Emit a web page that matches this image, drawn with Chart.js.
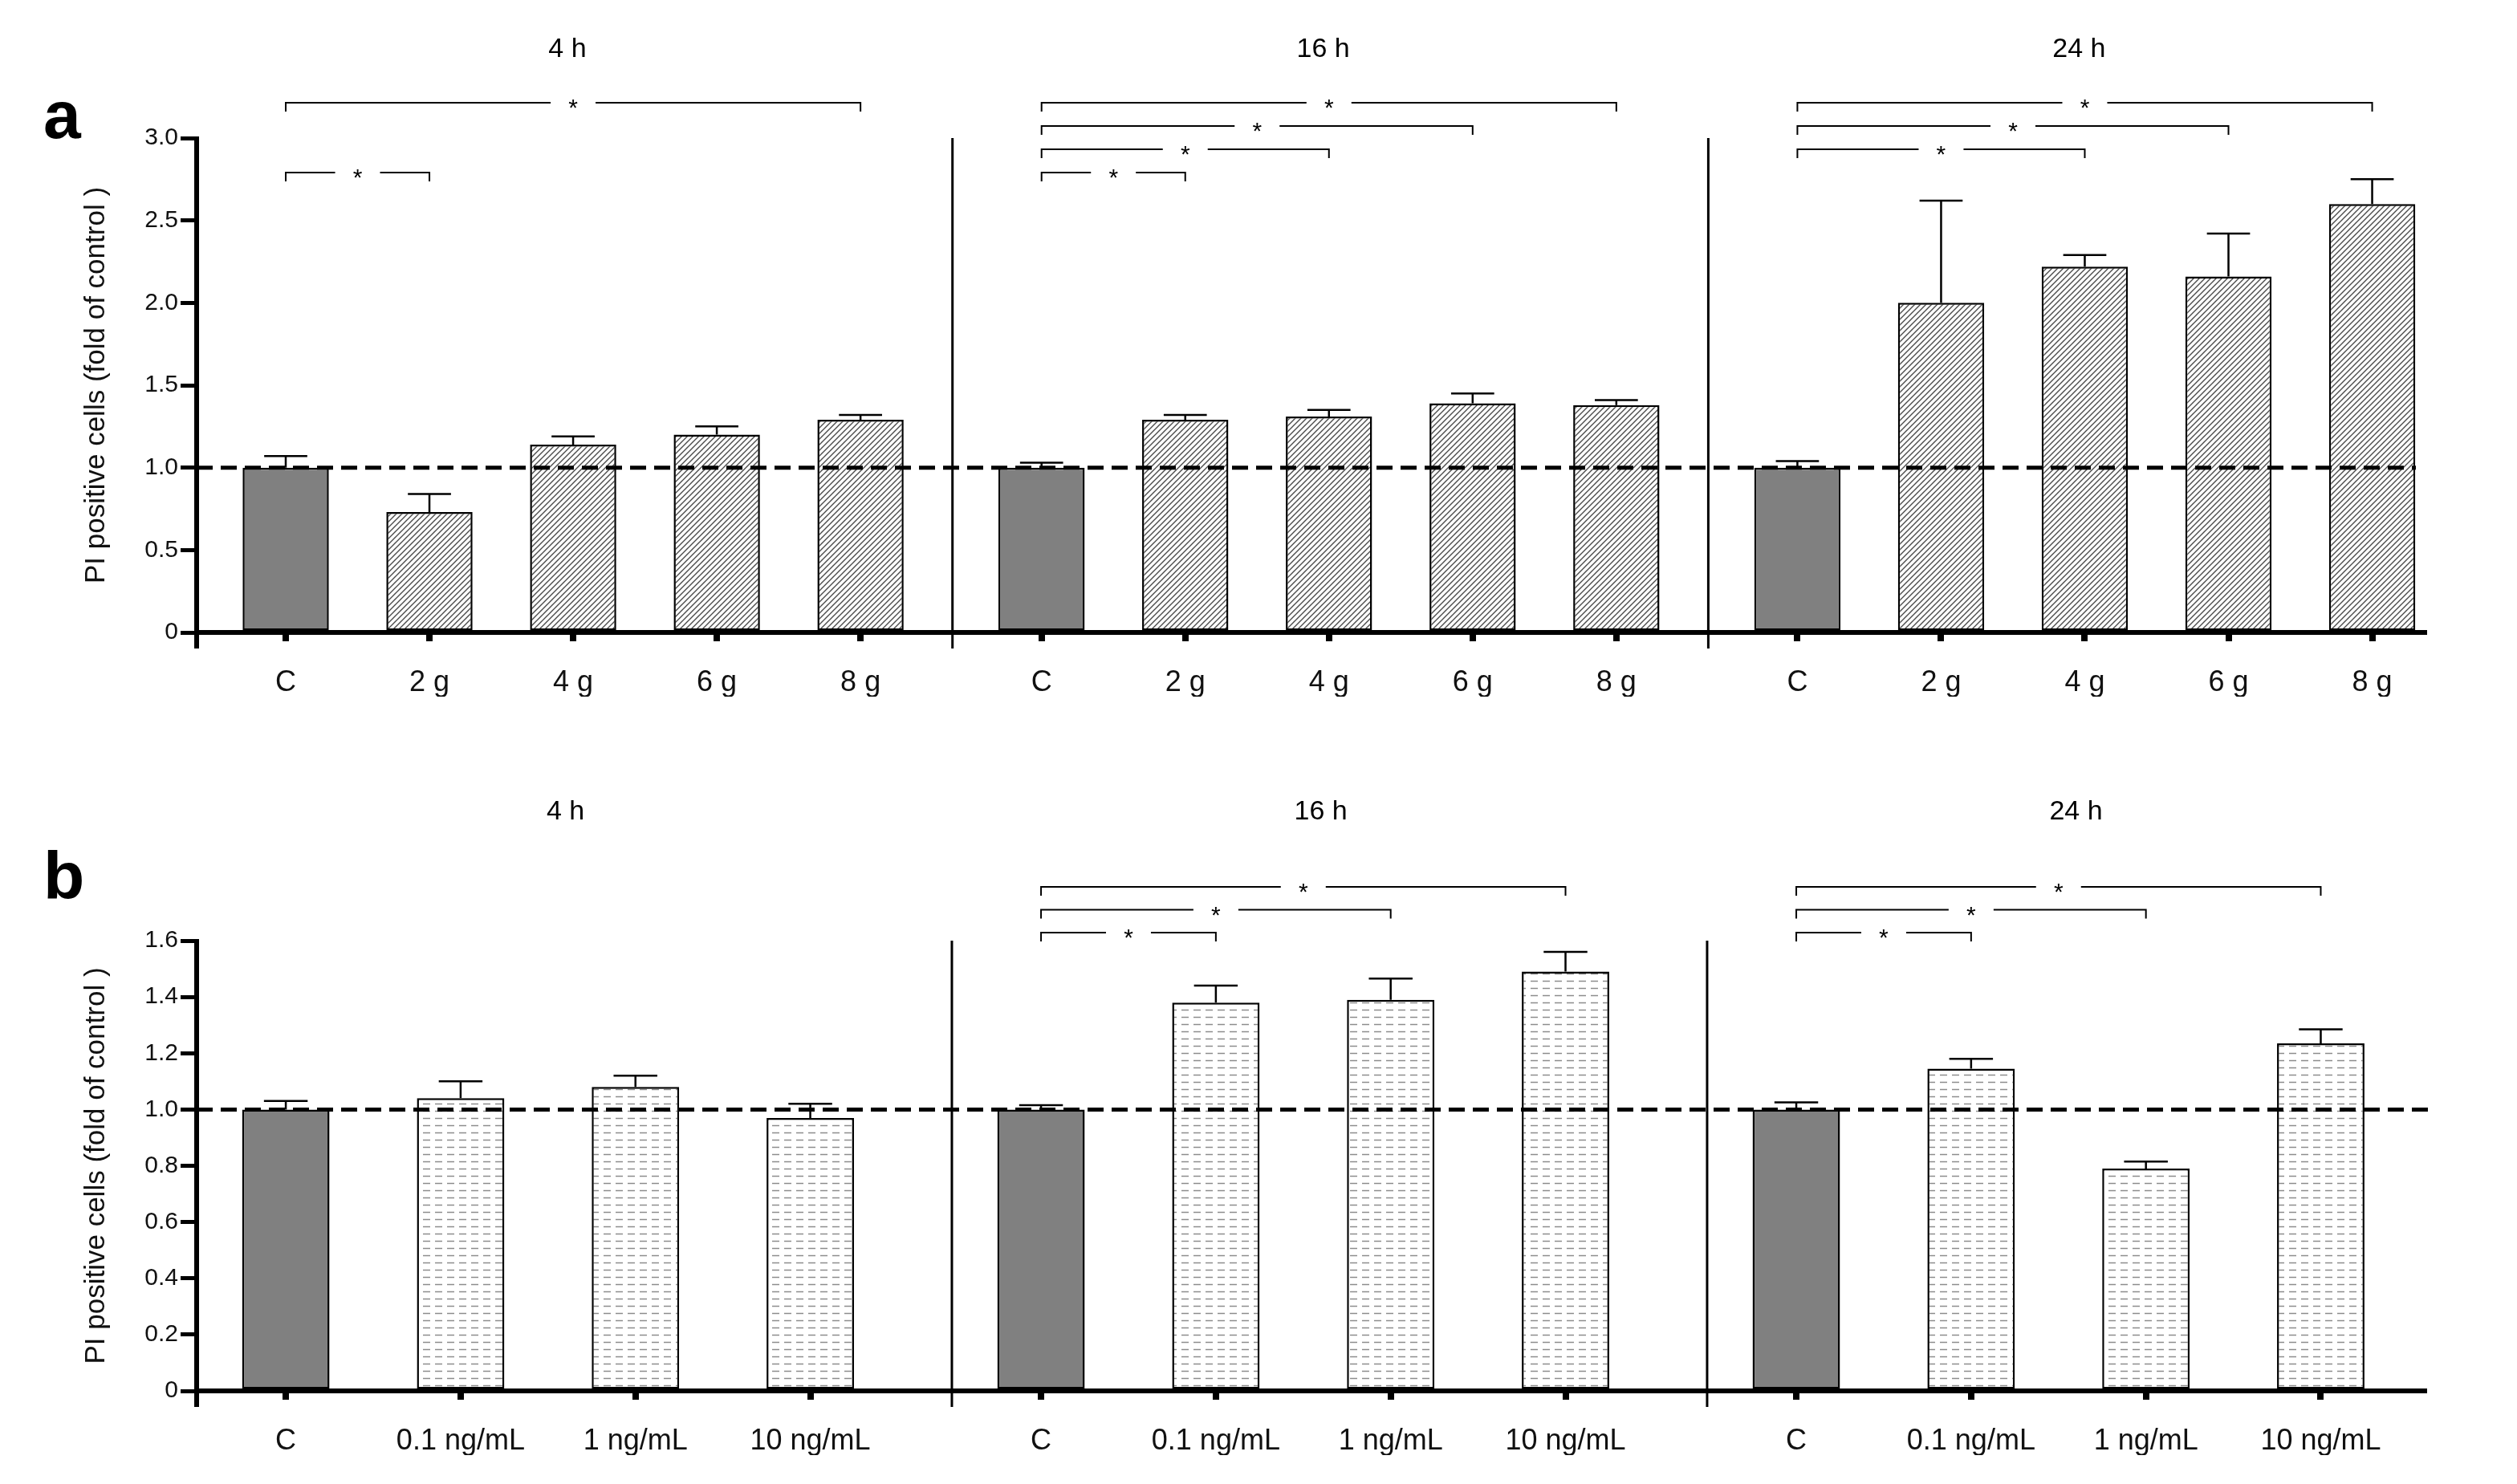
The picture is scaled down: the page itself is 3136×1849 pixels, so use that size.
<!DOCTYPE html>
<html>
<head>
<meta charset="utf-8">
<script src="https://cdn.jsdelivr.net/npm/chart.js@4.4.1/dist/chart.umd.min.js"></script>
<style>
  html, body { margin: 0; padding: 0; background: #fff; }
  #wrap { position: relative; width: 3136px; height: 1849px; }
  .panel { position: absolute; left: 0; width: 3136px; }
</style>
</head>
<body>
<div id="wrap">
  <div class="panel" style="top:0;height:930px"><canvas id="chartA" width="3136" height="930"></canvas></div>
  <div class="panel" style="top:930px;height:919px"><canvas id="chartB" width="3136" height="919"></canvas></div>
</div>
<script>
const timePoints = ["4 h", "16 h", "24 h"];
const yTitle = "PI positive cells (fold of control )";

// panel a
const labelsA = ["C", "2 g", "4 g", "6 g", "8 g"];
const meanA4 = [1.0, 0.73, 1.14, 1.2, 1.29];
const errA4 = [0.07, 0.11, 0.05, 0.05, 0.03];
const meanA16 = [1.0, 1.29, 1.31, 1.39, 1.38];
const errA16 = [0.03, 0.03, 0.04, 0.06, 0.03];
const meanA24 = [1.0, 2.0, 2.22, 2.16, 2.6];
const errA24 = [0.04, 0.62, 0.07, 0.26, 0.15];
// [time point, compared with C]
const sigA = [[0, 4], [0, 1], [1, 4], [1, 3], [1, 2], [1, 1], [2, 4], [2, 3], [2, 2]];

// panel b
const labelsB = ["C", "0.1 ng/mL", "1 ng/mL", "10 ng/mL"];
const meanB4 = [1.0, 1.04, 1.08, 0.97];
const errB4 = [0.03, 0.06, 0.04, 0.05];
const meanB16 = [1.0, 1.38, 1.39, 1.49];
const errB16 = [0.015, 0.06, 0.075, 0.07];
const meanB24 = [1.0, 1.145, 0.79, 1.235];
const errB24 = [0.025, 0.035, 0.025, 0.05];
const sigB = [[1, 3], [1, 2], [1, 1], [2, 3], [2, 2], [2, 1]];

const FONT = "'Liberation Sans', Arial, sans-serif";

const makePattern = (w, h, draw) => {
  const c = document.createElement("canvas");
  c.width = w;
  c.height = h;
  const g = c.getContext("2d");
  g.fillStyle = "#fff";
  g.fillRect(0, 0, w, h);
  draw(g);
  return g.createPattern(c, "repeat");
};

const hatch = makePattern(7, 7, (g) => {
  g.strokeStyle = "#4a4a4a";
  g.lineWidth = 1.4;
  g.beginPath();
  g.moveTo(-1, 8); g.lineTo(8, -1);
  g.moveTo(-1, 1); g.lineTo(1, -1);
  g.moveTo(6, 8); g.lineTo(8, 6);
  g.stroke();
});

const dashes = makePattern(15, 9, (g) => {
  g.strokeStyle = "#8c8c8c";
  g.lineWidth = 1.5;
  g.beginPath();
  g.moveTo(2, 4.5); g.lineTo(11, 4.5);
  g.stroke();
});

const decor = {
  id: "decor",
  afterDatasetsDraw(chart, args, o) {
    const { ctx, chartArea: ca, scales: { x, y } } = chart;
    ctx.save();
    ctx.strokeStyle = "#000";
    ctx.fillStyle = "#000";

    // error bars (upper only)
    const meta = chart.getDatasetMeta(0);
    meta.data.forEach((bar, k) => {
      const top = y.getPixelForValue(o.means[k] + o.errs[k]);
      const half = bar.width * 0.25;
      ctx.lineWidth = 2.5;
      ctx.beginPath();
      ctx.moveTo(bar.x, bar.y);
      ctx.lineTo(bar.x, top);
      ctx.moveTo(bar.x - half, top);
      ctx.lineTo(bar.x + half, top);
      ctx.stroke();
    });

    // control level
    const y1 = y.getPixelForValue(1);
    ctx.lineWidth = 5;
    ctx.setLineDash([20, 10]);
    ctx.beginPath();
    ctx.moveTo(ca.left, y1);
    ctx.lineTo(ca.right - o.dashEnd, y1);
    ctx.stroke();
    ctx.setLineDash([]);

    // y axis and group separators
    ctx.lineWidth = 6;
    ctx.beginPath();
    ctx.moveTo(ca.left, ca.top - 2);
    ctx.lineTo(ca.left, ca.bottom + 20);
    ctx.stroke();
    ctx.lineWidth = 3;
    for (let g = 1; g < timePoints.length; g++) {
      const sx = x.getPixelForValue(g * o.stride - o.margin);
      ctx.beginPath();
      ctx.moveTo(sx, ca.top);
      ctx.lineTo(sx, ca.bottom + 20);
      ctx.stroke();
    }

    // time point titles
    ctx.font = "34px " + FONT;
    ctx.textAlign = "center";
    ctx.textBaseline = "middle";
    timePoints.forEach((t, g) => {
      const tx = x.getPixelForValue(g * o.stride - o.margin + o.stride / 2 - 0.05);
      ctx.fillText(t, tx, ca.top - o.titleOffset);
    });

    // significance brackets
    ctx.lineWidth = 2;
    ctx.font = "30px " + FONT;
    ctx.textBaseline = "alphabetic";
    o.sig.forEach(([g, idx]) => {
      const level = o.n - 1 - idx;
      const by = ca.top - o.bracketTop + level * o.bracketStep;
      const x1 = x.getPixelForValue(g * o.stride);
      const x2 = x.getPixelForValue(g * o.stride + idx);
      const mid = (x1 + x2) / 2;
      ctx.beginPath();
      ctx.moveTo(x1, by + 11);
      ctx.lineTo(x1, by);
      ctx.lineTo(mid - 28, by);
      ctx.moveTo(mid + 28, by);
      ctx.lineTo(x2, by);
      ctx.lineTo(x2, by + 11);
      ctx.stroke();
      ctx.fillText("*", mid, by + 16);
    });

    // panel letter
    ctx.font = "bold 84px " + FONT;
    ctx.textAlign = "left";
    ctx.fillText(o.letter, 54, ca.top - o.letterUp);
    ctx.restore();
  },
};

const makePanel = (id, p) => {
  const n = p.labels.length;
  const points = [];
  const colors = [];
  const means = [];
  const errs = [];
  p.means.forEach((group, g) => {
    group.forEach((v, i) => {
      points.push({ x: g * p.stride + i, y: v });
      colors.push(i === 0 ? "#808080" : p.fill);
      means.push(v);
      errs.push(p.errs[g][i]);
    });
  });
  const tickValues = points.map((pt) => pt.x);

  return new Chart(document.getElementById(id), {
    type: "bar",
    data: {
      datasets: [
        {
          data: points,
          backgroundColor: colors,
          borderColor: "#000",
          borderWidth: 2.5,
          borderSkipped: false,
          barPercentage: p.barPct,
          categoryPercentage: 1,
        },
      ],
    },
    options: {
      responsive: false,
      animation: false,
      layout: { padding: { top: p.padTop, bottom: p.padBottom, left: 0, right: 116 } },
      plugins: {
        legend: { display: false },
        tooltip: { enabled: false },
        decor: {
          means, errs, n,
          sig: p.sig,
          stride: p.stride,
          margin: p.margin,
          letter: p.letter,
          letterUp: p.letterUp,
          titleOffset: p.titleOffset,
          bracketTop: p.bracketTop,
          bracketStep: p.bracketStep,
          dashEnd: p.dashEnd,
        },
      },
      scales: {
        x: {
          type: "linear",
          offset: false,
          min: -p.margin,
          max: (timePoints.length - 1) * p.stride + n - 1 + p.rightMargin,
          afterBuildTicks: (scale) => {
            scale.ticks = tickValues.map((v) => ({ value: v }));
          },
          afterFit: (scale) => {
            scale.height = 80;
          },
          grid: {
            offset: false,
            drawOnChartArea: false,
            drawTicks: true,
            tickLength: 11,
            lineWidth: 8,
            color: "#000",
          },
          border: { display: true, width: 6, color: "#000" },
          ticks: {
            autoSkip: false,
            maxRotation: 0,
            minRotation: 0,
            padding: 30,
            color: "#111",
            font: { family: FONT, size: 36 },
            callback: (v, i) => p.labels[i % n],
          },
        },
        y: {
          min: 0,
          max: p.yMax,
          afterFit: (scale) => {
            scale.width = 245;
          },
          grid: {
            drawOnChartArea: false,
            drawTicks: true,
            tickLength: 20,
            lineWidth: 5,
            color: "#000",
          },
          border: { display: false },
          ticks: {
            stepSize: p.yStep,
            padding: 3,
            color: "#111",
            font: { family: FONT, size: 30 },
            callback: (v) => (v === 0 ? "0" : v.toFixed(1)),
          },
          title: {
            display: true,
            text: yTitle,
            color: "#111",
            font: { family: FONT, size: 35 },
            padding: { top: 99, bottom: 0 },
          },
        },
      },
    },
    plugins: [decor],
  });
};

makePanel("chartA", {
  labels: labelsA,
  means: [meanA4, meanA16, meanA24],
  errs: [errA4, errA16, errA24],
  sig: sigA,
  fill: hatch,
  barPct: 0.6,
  stride: 5.26,
  margin: 0.62,
  rightMargin: 0.36,
  yMax: 3,
  yStep: 0.5,
  padTop: 172,
  padBottom: 62,
  letter: "a",
  letterUp: 0,
  titleOffset: 110,
  bracketTop: 44,
  bracketStep: 29,
  dashEnd: 10,
});

makePanel("chartB", {
  labels: labelsB,
  means: [meanB4, meanB16, meanB24],
  errs: [errB4, errB16, errB24],
  sig: sigB,
  fill: dashes,
  barPct: 0.5,
  stride: 4.32,
  margin: 0.51,
  rightMargin: 0.59,
  yMax: 1.6,
  yStep: 0.2,
  padTop: 242,
  padBottom: 36,
  letter: "b",
  letterUp: 52,
  titleOffset: 160,
  bracketTop: 67,
  bracketStep: 28.5,
  dashEnd: -6,
});
</script>
</body>
</html>
